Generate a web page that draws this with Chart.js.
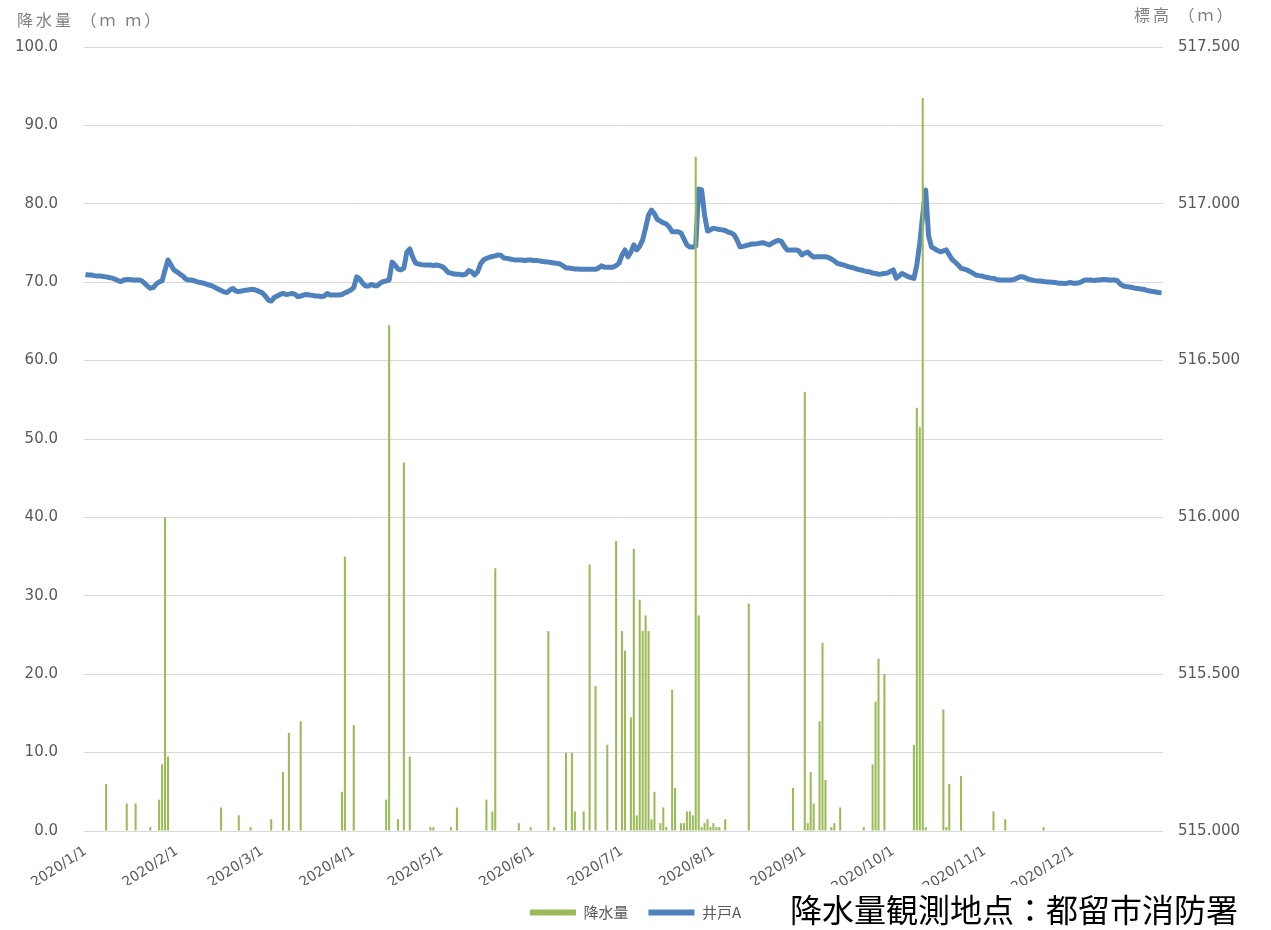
<!DOCTYPE html>
<html lang="ja">
<head>
  <meta charset="UTF-8">
  <title>降水量と井戸A 標高 2020</title>
  <script src="https://cdn.jsdelivr.net/npm/chart.js"></script>
  <style>
    body {
      margin: 0;
      padding: 0;
      background: #ffffff;
    }

    #wrap {
      width: 1271px;
      height: 930px;
      position: relative;
    }
  </style>
</head>
<body>
  <div id="wrap">
    <canvas id="myChart" width="1271" height="930"></canvas>
  </div>

  <script>
    // rain days: day index from 2020/1/1 (0 = Jan 1), values in mm
    const rainDay = [7, 14, 17, 22, 25, 26, 27, 28, 46, 52, 56, 63, 67, 69, 73, 87, 88, 91,
      102, 103, 106, 108, 110, 117, 118, 124, 126, 136, 138, 139, 147, 151, 157, 159,
      163, 165, 166, 169, 171, 173, 177, 180, 182, 183, 185, 186, 187, 188, 189, 190,
      191, 192, 193, 195, 196, 197, 199, 200, 202, 203, 204, 205, 206, 207, 208, 209,
      210, 211, 212, 213, 214, 215, 217, 225, 240, 244, 245, 246, 247, 249, 250, 251,
      253, 254, 256, 264, 267, 268, 269, 271, 281, 282, 283, 284, 285, 291, 292, 293,
      297, 308, 312, 325];
    const rainMm = [6.0, 3.5, 3.5, 0.5, 4.0, 8.5, 40.0, 9.5, 3.0, 2.0, 0.5, 1.5, 7.5, 12.5, 14.0, 5.0, 35.0, 13.5,
      4.0, 64.5, 1.5, 47.0, 9.5, 0.5, 0.5, 0.5, 3.0, 4.0, 2.5, 33.5, 1.0, 0.5, 25.5, 0.5,
      10.0, 10.0, 2.5, 2.5, 34.0, 18.5, 11.0, 37.0, 25.5, 23.0, 14.5, 36.0, 2.0, 29.5, 25.5, 27.5,
      25.5, 1.5, 5.0, 1.0, 3.0, 0.5, 18.0, 5.5, 1.0, 1.0, 2.5, 2.5, 2.0, 86.0, 27.5, 0.5,
      1.0, 1.5, 0.5, 1.0, 0.5, 0.5, 1.5, 29.0, 5.5, 56.0, 1.0, 7.5, 3.5, 14.0, 24.0, 6.5,
      0.5, 1.0, 3.0, 0.5, 8.5, 16.5, 22.0, 20.0, 11.0, 54.0, 51.5, 93.5, 0.5, 15.5, 0.5, 6.0,
      7.0, 2.5, 1.5, 0.5];

    // well A level (m), one value per day of 2020
    const wellA = [
      516.775, 516.773, 516.773, 516.771, 516.770, 516.770, 516.768, 516.767, 516.765, 516.763,
      516.760, 516.755, 516.752, 516.757, 516.759, 516.759, 516.757, 516.757, 516.757, 516.755,
      516.747, 516.738, 516.731, 516.733, 516.744, 516.751, 516.754, 516.789, 516.821, 516.805,
      516.789, 516.783, 516.776, 516.770, 516.760, 516.757, 516.757, 516.754, 516.751, 516.749,
      516.747, 516.744, 516.741, 516.738, 516.733, 516.728, 516.724, 516.719, 516.717, 516.725,
      516.730, 516.722, 516.720, 516.722, 516.724, 516.725, 516.727, 516.727, 516.724, 516.720,
      516.716, 516.706, 516.693, 516.690, 516.701, 516.706, 516.711, 516.714, 516.711, 516.712,
      516.714, 516.712, 516.704, 516.706, 516.709, 516.711, 516.709, 516.708, 516.706, 516.706,
      516.704, 516.706, 516.714, 516.709, 516.709, 516.709, 516.709, 516.711, 516.716, 516.720,
      516.725, 516.733, 516.767, 516.760, 516.747, 516.738, 516.738, 516.743, 516.739, 516.739,
      516.747, 516.752, 516.754, 516.757, 516.814, 516.805, 516.792, 516.789, 516.795, 516.846,
      516.856, 516.830, 516.811, 516.808, 516.806, 516.805, 516.805, 516.805, 516.803, 516.805,
      516.803, 516.800, 516.792, 516.781, 516.779, 516.776, 516.775, 516.775, 516.773, 516.776,
      516.787, 516.783, 516.773, 516.783, 516.808, 516.821, 516.826, 516.829, 516.832, 516.834,
      516.837, 516.835, 516.827, 516.826, 516.824, 516.822, 516.821, 516.821, 516.821, 516.819,
      516.821, 516.821, 516.819, 516.819, 516.818, 516.816, 516.815, 516.814, 516.813, 516.811,
      516.810, 516.808, 516.802, 516.796, 516.795, 516.794, 516.792, 516.792, 516.791, 516.791,
      516.791, 516.791, 516.791, 516.791, 516.795, 516.802, 516.798, 516.798, 516.798, 516.798,
      516.803, 516.811, 516.837, 516.853, 516.831, 516.846, 516.869, 516.853, 516.865, 516.885,
      516.923, 516.964, 516.980, 516.968, 516.950, 516.945, 516.939, 516.936, 516.926, 516.911,
      516.911, 516.911, 516.907, 516.888, 516.869, 516.862, 516.862, 516.865, 517.047, 517.044,
      516.964, 516.913, 516.917, 516.922, 516.920, 516.918, 516.917, 516.915, 516.910, 516.907,
      516.901, 516.885, 516.863, 516.864, 516.867, 516.869, 516.872, 516.872, 516.873, 516.875,
      516.876, 516.872, 516.869, 516.875, 516.880, 516.883, 516.881, 516.865, 516.853, 516.853,
      516.853, 516.853, 516.850, 516.837, 516.843, 516.846, 516.837, 516.830, 516.831, 516.831,
      516.831, 516.831, 516.829, 516.824, 516.818, 516.810, 516.808, 516.805, 516.802, 516.799,
      516.797, 516.794, 516.791, 516.789, 516.786, 516.784, 516.783, 516.779, 516.778, 516.775,
      516.776, 516.778, 516.779, 516.784, 516.789, 516.763, 516.770, 516.778, 516.773, 516.768,
      516.765, 516.762, 516.805, 516.875, 516.964, 517.044, 516.897, 516.862, 516.857, 516.851,
      516.847, 516.850, 516.853, 516.837, 516.822, 516.814, 516.805, 516.794, 516.792, 516.789,
      516.784, 516.779, 516.773, 516.771, 516.770, 516.767, 516.765, 516.763, 516.762, 516.759,
      516.757, 516.757, 516.757, 516.757, 516.757, 516.759, 516.763, 516.767, 516.767, 516.763,
      516.759, 516.757, 516.755, 516.754, 516.754, 516.752, 516.751, 516.751, 516.750, 516.749,
      516.747, 516.747, 516.746, 516.747, 516.749, 516.747, 516.747, 516.748, 516.752, 516.757,
      516.757, 516.757, 516.755, 516.757, 516.757, 516.759, 516.759, 516.757, 516.757, 516.757,
      516.755, 516.744, 516.738, 516.736, 516.735, 516.733, 516.731, 516.730, 516.728, 516.727,
      516.724, 516.722, 516.720, 516.719, 516.717, 516.716
    ];

    // daily category labels 2020/1/1 ... 2020/12/31
    const labels = [];
    for (let d = new Date(2020, 0, 1); d.getFullYear() === 2020; d.setDate(d.getDate() + 1)) {
      labels.push('2020/' + (d.getMonth() + 1) + '/' + d.getDate());
    }
    const rain = labels.map(() => null);
    rainDay.forEach((day, i) => { rain[day] = rainMm[i]; });

    const GREEN = '#9BBB59';
    const BLUE = '#4F81BD';
    const GRAY = '#595959';
    const tickFont = { family: 'DejaVu Sans', size: 15 };

    // titles above the axes and the source note
    const extraText = {
      id: 'extraText',
      afterDraw(chart) {
        const c = chart.ctx;
        c.save();
        c.fillStyle = '#7f7f7f';
        c.font = '16px "Noto Sans CJK JP"';
        c.letterSpacing = '3px';
        c.textBaseline = 'middle';
        c.textAlign = 'left';
        c.fillText('降水量 （ｍ ｍ）', 17, 20);
        c.fillText('標高 （ｍ）', 1134, 15);
        c.letterSpacing = '0px';
        c.fillStyle = '#000';
        c.font = '32px "Noto Sans CJK JP"';
        c.textBaseline = 'alphabetic';
        c.fillText('降水量観測地点：都留市消防署', 790, 922);
        c.restore();
      }
    };

    const ctx = document.getElementById('myChart').getContext('2d');
    const myChart = new Chart(ctx, {
      type: 'bar',
      data: {
        labels: labels,
        datasets: [{
          label: '降水量',
          data: rain,
          backgroundColor: GREEN,
          borderWidth: 0,
          barPercentage: 0.7,
          categoryPercentage: 1.0,
          yAxisID: 'y'
        }, {
          type: 'line',
          label: '井戸A',
          data: wellA,
          borderColor: BLUE,
          backgroundColor: BLUE,
          borderWidth: 5,
          pointRadius: 0,
          tension: 0,
          borderJoinStyle: 'round',
          yAxisID: 'y1'
        }]
      },
      options: {
        responsive: false,
        animation: false,
        layout: {
          padding: { top: 47, left: 0, right: 0, bottom: 0 }
        },
        plugins: {
          tooltip: { enabled: false },
          legend: {
            position: 'bottom',
            labels: {
              boxWidth: 46,
              boxHeight: 6,
              padding: 20,
              color: GRAY,
              font: { family: 'Noto Sans CJK JP', size: 15 },
              generateLabels(chart) {
                const items = Chart.defaults.plugins.legend.labels.generateLabels(chart);
                items.forEach(it => { it.lineWidth = 0; });
                return items;
              }
            }
          }
        },
        scales: {
          x: {
            grid: { display: false },
            border: { display: false },
            afterFit(scale) { scale.height = 54; },
            ticks: {
              autoSkip: false,
              minRotation: 33,
              maxRotation: 33,
              padding: 4,
              color: GRAY,
              font: { family: 'DejaVu Sans', size: 14 },
              callback(value, index) {
                const l = labels[index];
                return l.split('/')[2] === '1' ? l : '';
              }
            }
          },
          y: {
            position: 'left',
            min: 0,
            max: 100,
            afterFit(scale) { scale.width = 84; },
            grid: { color: '#d9d9d9', lineWidth: 1, drawTicks: false },
            border: { display: false },
            ticks: {
              stepSize: 10,
              padding: 26,
              color: GRAY,
              font: tickFont,
              callback: v => v.toFixed(1)
            }
          },
          y1: {
            position: 'right',
            min: 515,
            max: 517.5,
            afterFit(scale) { scale.width = 108; },
            grid: { display: false, drawTicks: false },
            border: { display: false },
            ticks: {
              stepSize: 0.5,
              padding: 15,
              color: GRAY,
              font: tickFont,
              callback: v => v.toFixed(3)
            }
          }
        }
      },
      plugins: [extraText]
    });
  </script>
</body>
</html>
